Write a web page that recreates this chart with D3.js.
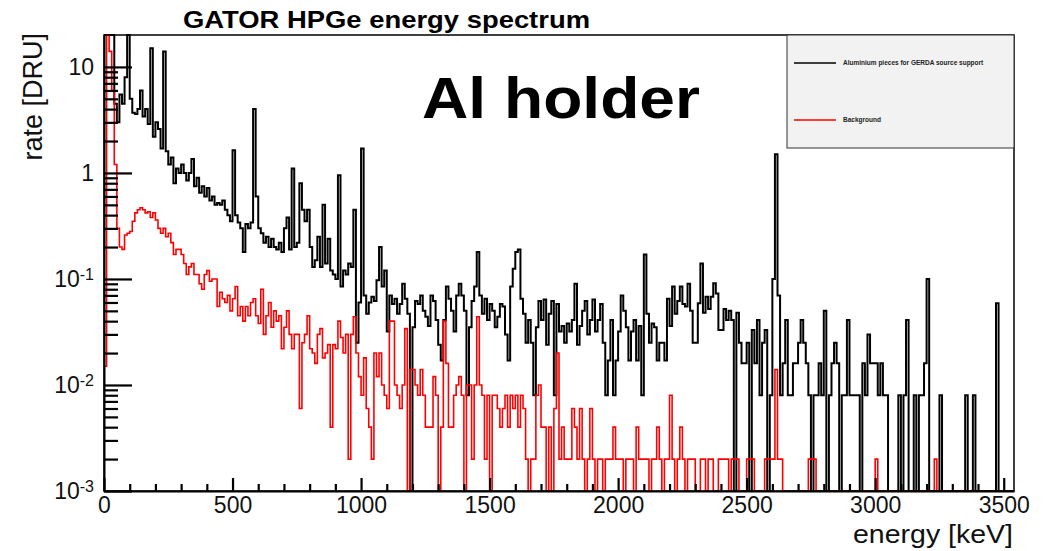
<!DOCTYPE html>
<html>
<head>
<meta charset="utf-8">
<script src="https://cdn.jsdelivr.net/npm/d3@7"></script>
<style>
  body { margin: 0; background: #fff; }
  svg { font-family: "Liberation Sans", Arial, Helvetica, sans-serif; }
</style>
</head>
<body>
<div id="chart"></div>
<script>
// histogram binning (keV) and axis ranges
const binWidthKeV = 10;
const energyRangeKeV = [0, 3540];
const rateRangeDRU = [1e-3, 20];

const xMajorTicks = [0, 500, 1000, 1500, 2000, 2500, 3000, 3500];
const yDecades = [1e-3, 1e-2, 1e-1, 1, 10];
const yDecadeLabels = [["10", "-3"], ["10", "-2"], ["10", "-1"], ["1", ""], ["10", ""]];

const seriesNames = ["Aluminium pieces for GERDA source support", "Background"];

// rate [DRU] per 10 keV bin (one row = 100 keV)
const aluminiumRate = [
  30, 30, 30, 25, 4.5, 3.0, 5.5, 4.5, 8, 30,                                   // 0
  5.0, 3.7, 3.6, 4.0, 6.0, 3.4, 4.0, 2.9, 15, 2.2,                             // 100
  3.0, 2.6, 1.7, 14, 1.6, 1.2, 1.4, 0.8, 1.1, 1.0,                             // 200
  1.2, 1.0, 0.85, 1.0, 1.35, 0.75, 0.9, 0.65, 0.75, 0.6,                       // 300
  0.72, 0.55, 0.6, 0.5, 0.52, 0.5, 0.55, 0.45, 0.4, 0.35,                      // 400
  1.64, 0.4, 0.34, 0.3, 0.18, 0.33, 0.3, 0.34, 4.0, 0.6,                       // 500
  0.3, 0.27, 0.22, 0.25, 0.2, 0.24, 0.2, 0.19, 0.22, 0.18,                     // 600
  0.3, 0.38, 0.19, 1.1, 0.2, 0.22, 0.8, 0.45, 0.35, 0.45,                      // 700
  0.2, 0.13, 0.15, 0.25, 0.13, 0.5, 0.14, 0.24, 0.12, 0.11,                    // 800
  0.1, 0.95, 0.085, 0.12, 0.11, 0.14, 0.13, 0.45, 0.025, 0.06,                 // 900
  1.7, 0.07, 0.047, 0.06, 0.068, 0.062, 0.097, 0.2, 0.085, 0.12,               // 1000
  0.032, 0.07, 0.058, 0.065, 0.047, 0.058, 0.09, 0.065, 0.047, 0,              // 1100
  0.035, 0.062, 0.058, 0.07, 0.05, 0.044, 0.036, 0.07, 0.062, 0.041,           // 1200
  0.024, 0.017, 0.041, 0.085, 0.065, 0.05, 0.032, 0.07, 0.09, 0.07,            // 1300
  0.05, 0.008, 0.035, 0.062, 0.085, 0.18, 0.07, 0.047, 0.065, 0.041,           // 1400
  0.058, 0.05, 0.035, 0.044, 0.058, 0.055, 0.03, 0.017, 0.085, 0.125,          // 1500
  0.18, 0.19, 0.065, 0.047, 0.025, 0.041, 0.025, 0.008, 0.035, 0.062,          // 1600
  0.041, 0.064, 0.024, 0.047, 0.062, 0.008, 0.058, 0.032, 0.036, 0.025,        // 1700
  0.038, 0.032, 0.041, 0.09, 0.024, 0.036, 0.05, 0.062, 0.03, 0.041,           // 1800
  0.064, 0.032, 0.041, 0.058, 0.025, 0.008, 0.017, 0.041, 0.008, 0.017,        // 1900
  0.032, 0.07, 0.05, 0.035, 0.017, 0.032, 0.041, 0.017, 0.036, 0.008,          // 2000
  0.17, 0.047, 0.025, 0.038, 0.035, 0.017, 0.025, 0.025, 0.017, 0.065,         // 2100
  0.036, 0.085, 0.047, 0.062, 0.085, 0.058, 0.055, 0.09, 0.05, 0.025,          // 2200
  0.025, 0.059, 0.14, 0.048, 0.068, 0.052, 0.068, 0.091, 0.073, 0.033,         // 2300
  0.033, 0.052, 0.041, 0.05, 0.041, 0, 0.048, 0.025, 0.016, 0.016,             // 2400
  0.025, 0, 0.033, 0.016, 0.041, 0.008, 0.025, 0.033, 0, 0.008,                // 2500
  0.1, 1.5, 0.07, 0.008, 0.016, 0.041, 0.008, 0.008, 0.016, 0.016,             // 2600
  0.025, 0.041, 0.025, 0.016, 0.008, 0, 0.008, 0.008, 0.016, 0.008,            // 2700
  0.05, 0, 0.008, 0.016, 0.025, 0.016, 0, 0.008, 0.008, 0.041,                 // 2800
  0.008, 0.008, 0.008, 0.008, 0, 0.016, 0.008, 0.03, 0.016, 0.016,             // 2900
  0.016, 0.008, 0.016, 0.008, 0.008, 0, 0, 0, 0, 0.008,                        // 3000
  0, 0.008, 0.041, 0, 0, 0.008, 0, 0.008, 0.008, 0.016,                        // 3100
  0.1, 0, 0, 0, 0, 0.008, 0, 0, 0, 0,                                          // 3200
  0, 0, 0, 0, 0, 0.008, 0, 0, 0.008, 0,                                        // 3300
  0, 0, 0, 0, 0, 0, 0, 0.059, 0, 0,                                            // 3400
  0, 0, 0, 0                                                                   // 3500
];

const backgroundRate = [
  0.015, 40, 14, 6, 1.2, 0.3, 0.2, 0.19, 0.26, 0.27,                           // 0
  0.28, 0.35, 0.42, 0.45, 0.47, 0.45, 0.42, 0.43, 0.38, 0.42,                  // 100
  0.36, 0.3, 0.27, 0.3, 0.25, 0.27, 0.22, 0.17, 0.19, 0.19,                    // 200
  0.17, 0.14, 0.11, 0.13, 0.14, 0.11, 0.11, 0.09, 0.08, 0.11,                  // 300
  0.12, 0.095, 0.1, 0.1, 0.055, 0.075, 0.065, 0.06, 0.07, 0.05,                // 400
  0.065, 0.085, 0.045, 0.055, 0.04, 0.055, 0.045, 0.06, 0.065, 0.045,          // 500
  0.038, 0.08, 0.03, 0.045, 0.06, 0.035, 0.05, 0.04, 0.045, 0.022,             // 600
  0.035, 0.05, 0.03, 0.022, 0.03, 0.03, 0.006, 0.025, 0.03, 0.045,             // 700
  0.022, 0.02, 0.016, 0.03, 0.034, 0.018, 0.02, 0.024, 0.004, 0.024,           // 800
  0.022, 0.04, 0.028, 0.02, 0.03, 0.002, 0.03, 0.044, 0.02, 0.012,             // 900
  0.008, 0.018, 0.006, 0.004, 0.002, 0.02, 0.012, 0.02, 0.01, 0.008,           // 1000
  0.006, 0.04, 0.04, 0.01, 0.008, 0.006, 0.01, 0.034, 0, 0.014,                // 1100
  0.014, 0.01, 0.008, 0.014, 0.008, 0.004, 0.004, 0.004, 0.012, 0.008,         // 1200
  0, 0.004, 0.04, 0.016, 0.004, 0.004, 0.008, 0.01, 0.012, 0.008,              // 1300
  0, 0.01, 0.01, 0.002, 0.01, 0.044, 0.01, 0.008, 0.002, 0.008,                // 1400
  0, 0.008, 0.008, 0.006, 0.004, 0.006, 0.008, 0.004, 0.008, 0.006,            // 1500
  0.008, 0.004, 0.008, 0.006, 0.002, 0, 0.002, 0.002, 0.008, 0.01,             // 1600
  0.004, 0.004, 0, 0.004, 0, 0.006, 0.02, 0.002, 0.004, 0.002,                 // 1700
  0.002, 0.002, 0.006, 0.004, 0.002, 0.006, 0.002, 0, 0.002, 0.006,            // 1800
  0.002, 0, 0.002, 0.002, 0, 0.002, 0.002, 0.002, 0.004, 0.002,                // 1900
  0.002, 0.002, 0, 0.002, 0.002, 0.002, 0, 0.004, 0.002, 0.002,                // 2000
  0.002, 0.002, 0, 0.002, 0.002, 0.004, 0.002, 0, 0.002, 0.002,                // 2100
  0.008, 0.002, 0, 0.002, 0.004, 0.002, 0, 0.002, 0.002, 0.002,                // 2200
  0, 0, 0.002, 0.002, 0, 0.002, 0.002, 0, 0, 0.002,                            // 2300
  0.002, 0.002, 0.002, 0, 0.002, 0.002, 0.002, 0, 0, 0,                        // 2400
  0.002, 0.002, 0.002, 0, 0, 0, 0, 0.002, 0.002, 0.002,                        // 2500
  0.002, 0.014, 0.002, 0.002, 0, 0, 0, 0, 0, 0,                                // 2600
  0, 0, 0, 0, 0.002, 0.002, 0.002, 0, 0, 0,                                    // 2700
  0, 0, 0, 0, 0, 0, 0, 0, 0, 0,                                                // 2800
  0, 0, 0, 0, 0, 0, 0, 0, 0, 0,                                                // 2900
  0.002, 0, 0, 0, 0, 0, 0, 0, 0, 0,                                            // 3000
  0, 0, 0, 0, 0, 0, 0, 0, 0, 0,                                                // 3100
  0, 0, 0, 0.002, 0, 0, 0, 0, 0, 0,                                            // 3200
  0, 0, 0, 0, 0, 0, 0, 0, 0, 0,                                                // 3300
  0, 0, 0, 0, 0, 0, 0, 0, 0, 0,                                                // 3400
  0, 0, 0, 0                                                                   // 3500
];

const width = 1050, height = 551;
const margin = { top: 35, right: 36, bottom: 60, left: 104 };

const svg = d3.select("#chart")
  .append("svg")
  .attr("width", width)
  .attr("height", height);

const x = d3.scaleLinear()
  .domain(energyRangeKeV)
  .range([margin.left, width - margin.right]);

const y = d3.scaleLog()
  .domain(rateRangeDRU)
  .range([height - margin.bottom, margin.top])
  .clamp(true);

// minor ticks
const xMinorTicks = d3.range(100, energyRangeKeV[1], 100).filter(d => d % 500 !== 0);
const yMinorTicks = [];
yDecades.forEach(d => {
  for (let k = 2; k <= 9; k++) {
    if (k * d < rateRangeDRU[1]) yMinorTicks.push(k * d);
  }
});

// histograms (zero bins drawn on the lower edge, like ROOT)
const toPoints = rates => {
  const pts = rates.map((v, i) => [i * binWidthKeV, v]);
  pts.push([rates.length * binWidthKeV, rates[rates.length - 1]]);
  return pts;
};

const histLine = d3.line()
  .x(d => x(d[0]))
  .y(d => y(d[1] > 0 ? d[1] : rateRangeDRU[0]))
  .curve(d3.curveStepAfter);

svg.append("path")
  .datum(toPoints(aluminiumRate))
  .attr("d", histLine)
  .attr("fill", "none")
  .attr("stroke", "#000")
  .attr("stroke-width", 2);

svg.append("path")
  .datum(toPoints(backgroundRate))
  .attr("d", histLine)
  .attr("fill", "none")
  .attr("stroke", "#ff0000")
  .attr("stroke-width", 1.6);

// frame
svg.append("rect")
  .attr("x", x.range()[0])
  .attr("y", y.range()[1])
  .attr("width", x.range()[1] - x.range()[0])
  .attr("height", y.range()[0] - y.range()[1])
  .attr("fill", "none")
  .attr("stroke", "#000")
  .attr("stroke-width", 1.5);

// x axis, ticks pointing into the frame
const xAxis = svg.append("g")
  .attr("transform", `translate(0,${height - margin.bottom})`)
  .call(d3.axisBottom(x).tickValues(xMajorTicks).tickSizeInner(-13).tickSizeOuter(0)
    .tickPadding(6).tickFormat(d3.format("d")));
xAxis.select(".domain").attr("stroke-width", 2);
xAxis.selectAll(".tick line").attr("stroke", "#000").attr("stroke-width", 2.2);
xAxis.selectAll(".tick text")
  .style("font-size", "23px")
  .style("font-family", "'Liberation Sans', Arial, sans-serif")
  .attr("fill", "#111");

svg.append("g")
  .attr("transform", `translate(0,${height - margin.bottom})`)
  .call(d3.axisBottom(x).tickValues(xMinorTicks).tickSizeInner(-7).tickSizeOuter(0).tickFormat(""))
  .call(g => g.select(".domain").remove())
  .selectAll(".tick line").attr("stroke", "#000").attr("stroke-width", 2.2);

// y axis (log), ROOT style labels 10^n
const yAxis = svg.append("g")
  .attr("transform", `translate(${margin.left},0)`)
  .call(d3.axisLeft(y).tickValues(yDecades).tickSizeInner(-28).tickSizeOuter(0).tickPadding(10).tickFormat(""));
yAxis.select(".domain").attr("stroke-width", 2);
yAxis.selectAll(".tick line").attr("stroke", "#000").attr("stroke-width", 2.2);
yAxis.selectAll(".tick text")
  .style("font-size", "23px")
  .style("font-family", "'Liberation Sans', Arial, sans-serif")
  .attr("fill", "#111")
  .each(function (d, i) {
    const t = d3.select(this);
    const lab = yDecadeLabels[i];
    t.append("tspan").text(lab[0]);
    if (lab[1]) {
      t.append("tspan")
        .attr("dy", "-0.45em")
        .style("font-size", "16px")
        .text(lab[1]);
    }
  });

svg.append("g")
  .attr("transform", `translate(${margin.left},0)`)
  .call(d3.axisLeft(y).tickValues(yMinorTicks).tickSizeInner(-14).tickSizeOuter(0).tickFormat(""))
  .call(g => g.select(".domain").remove())
  .selectAll(".tick line").attr("stroke", "#000").attr("stroke-width", 2.2);

// titles
svg.append("text")
  .attr("x", 183)
  .attr("y", 28)
  .attr("textLength", 407)
  .attr("lengthAdjust", "spacingAndGlyphs")
  .style("font-size", "24px")
  .style("font-weight", "bold")
  .text("GATOR HPGe energy spectrum");

svg.append("text")
  .attr("x", 422)
  .attr("y", 118)
  .attr("textLength", 278)
  .attr("lengthAdjust", "spacingAndGlyphs")
  .style("font-size", "57px")
  .style("font-weight", "bold")
  .text("Al holder");

svg.append("text")
  .attr("transform", `translate(42,${margin.top - 2}) rotate(-90)`)
  .attr("text-anchor", "end")
  .style("font-size", "27px")
  .attr("fill", "#111")
  .text("rate [DRU]");

svg.append("text")
  .attr("x", 853)
  .attr("y", 543)
  .attr("textLength", 160)
  .attr("lengthAdjust", "spacingAndGlyphs")
  .style("font-size", "26px")
  .attr("fill", "#111")
  .text("energy [keV]");

// legend
const legend = svg.append("g").attr("transform", "translate(787,35)");
legend.append("rect")
  .attr("width", 227)
  .attr("height", 113)
  .attr("fill", "#f2f2f2")
  .attr("stroke", "#333")
  .attr("stroke-width", 1);

const legendColors = ["#000", "#ff0000"];
const legendRows = [28, 85];
seriesNames.forEach((name, i) => {
  legend.append("line")
    .attr("x1", 7).attr("x2", 49)
    .attr("y1", legendRows[i]).attr("y2", legendRows[i])
    .attr("stroke", legendColors[i])
    .attr("stroke-width", 1.3);
  legend.append("text")
    .attr("x", 56)
    .attr("y", legendRows[i])
    .attr("dy", "0.35em")
    .style("font-size", "6.5px")
    .style("font-weight", "bold")
    .attr("fill", "#222")
    .text(name);
});
</script>
</body>
</html>
